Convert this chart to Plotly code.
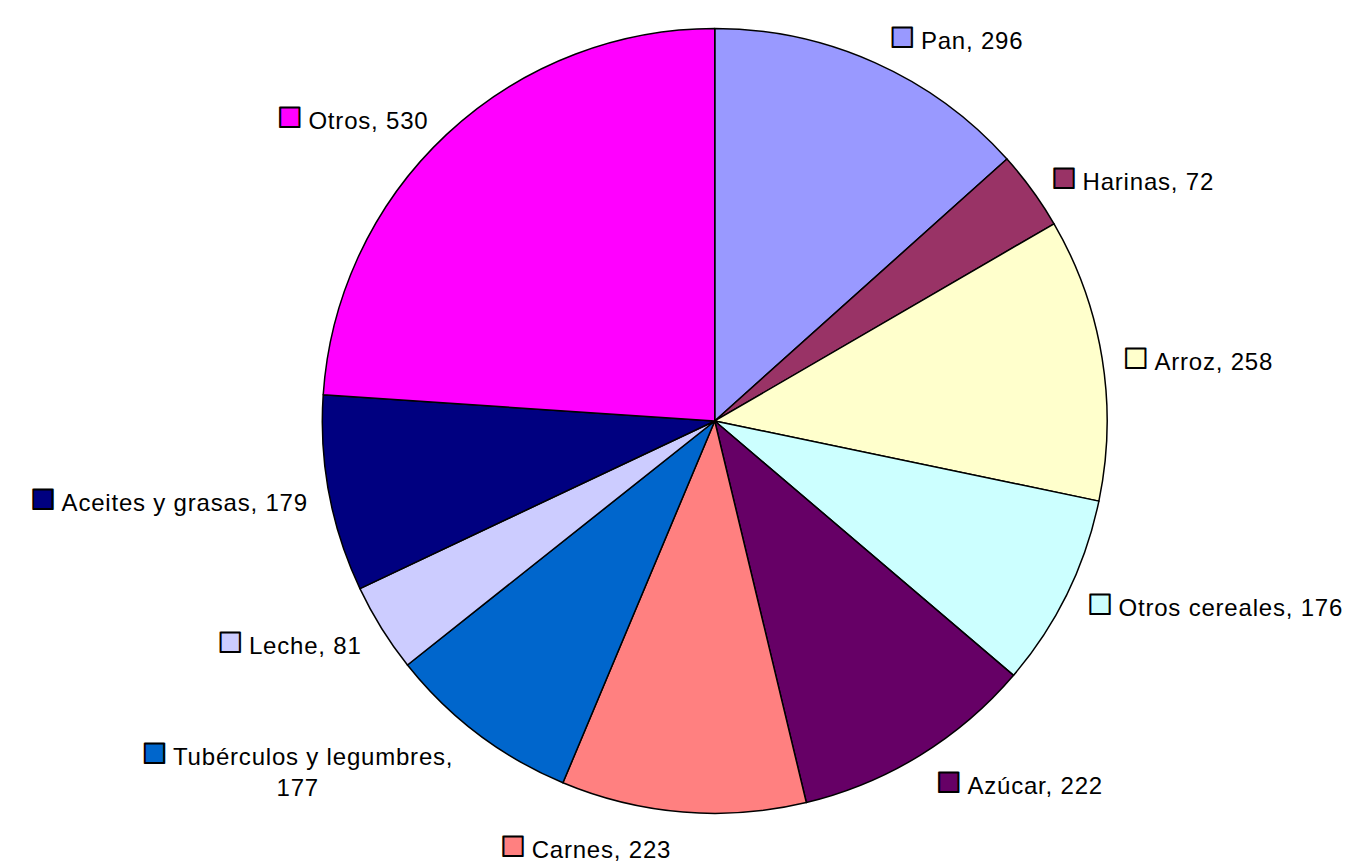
import plotly.graph_objects as go

categories = ["Pan", "Harinas", "Arroz", "Otros cereales", "Azúcar", "Carnes",
              "Tubérculos y legumbres", "Leche", "Aceites y grasas", "Otros"]
values = [296, 72, 258, 176, 222, 223, 177, 81, 179, 530]
colors = ["#9999FF", "#993366", "#FFFFCC", "#CCFFFF", "#660066", "#FF8080",
          "#0066CC", "#CCCCFF", "#000080", "#FF00FF"]

W, H = 1359, 863
CX, CY = 697.5, 420        # pie centre in pixels
R_PIE, R_LABEL = 409, 420  # pie radius, label ring radius

def domain(r):
    xc, yc = CX / W, 1 - CY / H
    y0, y1 = max(0.0, yc - r / H), min(1.0, yc + r / H)
    return dict(x=[xc - r / W, xc + r / W], y=[y0, y1])

texts = []
for c, col, v in zip(categories, colors, values):
    sq = (f"<span style='color:{col};stroke:black;stroke-width:2px;"
          f"font-size:40px'>■</span>")
    ls = "<span style='letter-spacing:0.8px'>"
    if c == "Tubérculos y legumbres":
        texts.append(f"{sq} {ls}{c},</span><br>{ls}{v}</span>")
    else:
        texts.append(f"{sq} {ls}{c}, {v}</span>")

fig = go.Figure()
fig.add_trace(go.Pie(
    labels=categories, values=values,
    textinfo="none", sort=False, direction="clockwise", rotation=0,
    marker=dict(colors=colors, line=dict(color="black", width=1.5)),
    domain=domain(R_PIE), showlegend=False, hoverinfo="label+value",
))
fig.add_trace(go.Pie(
    labels=categories, values=values,
    text=texts, textinfo="text", textposition="outside",
    sort=False, direction="clockwise", rotation=0,
    marker=dict(colors=["rgba(0,0,0,0)"] * len(values),
                line=dict(color="rgba(0,0,0,0)", width=0)),
    textfont=dict(family="Liberation Sans, Arial, sans-serif", size=24, color="black"),
    domain=domain(R_LABEL), showlegend=False, hoverinfo="skip",
))
fig.update_layout(
    width=W, height=H,
    margin=dict(l=0, r=0, t=0, b=0),
    paper_bgcolor="white", plot_bgcolor="white",
)
fig.write_html("out.html")
